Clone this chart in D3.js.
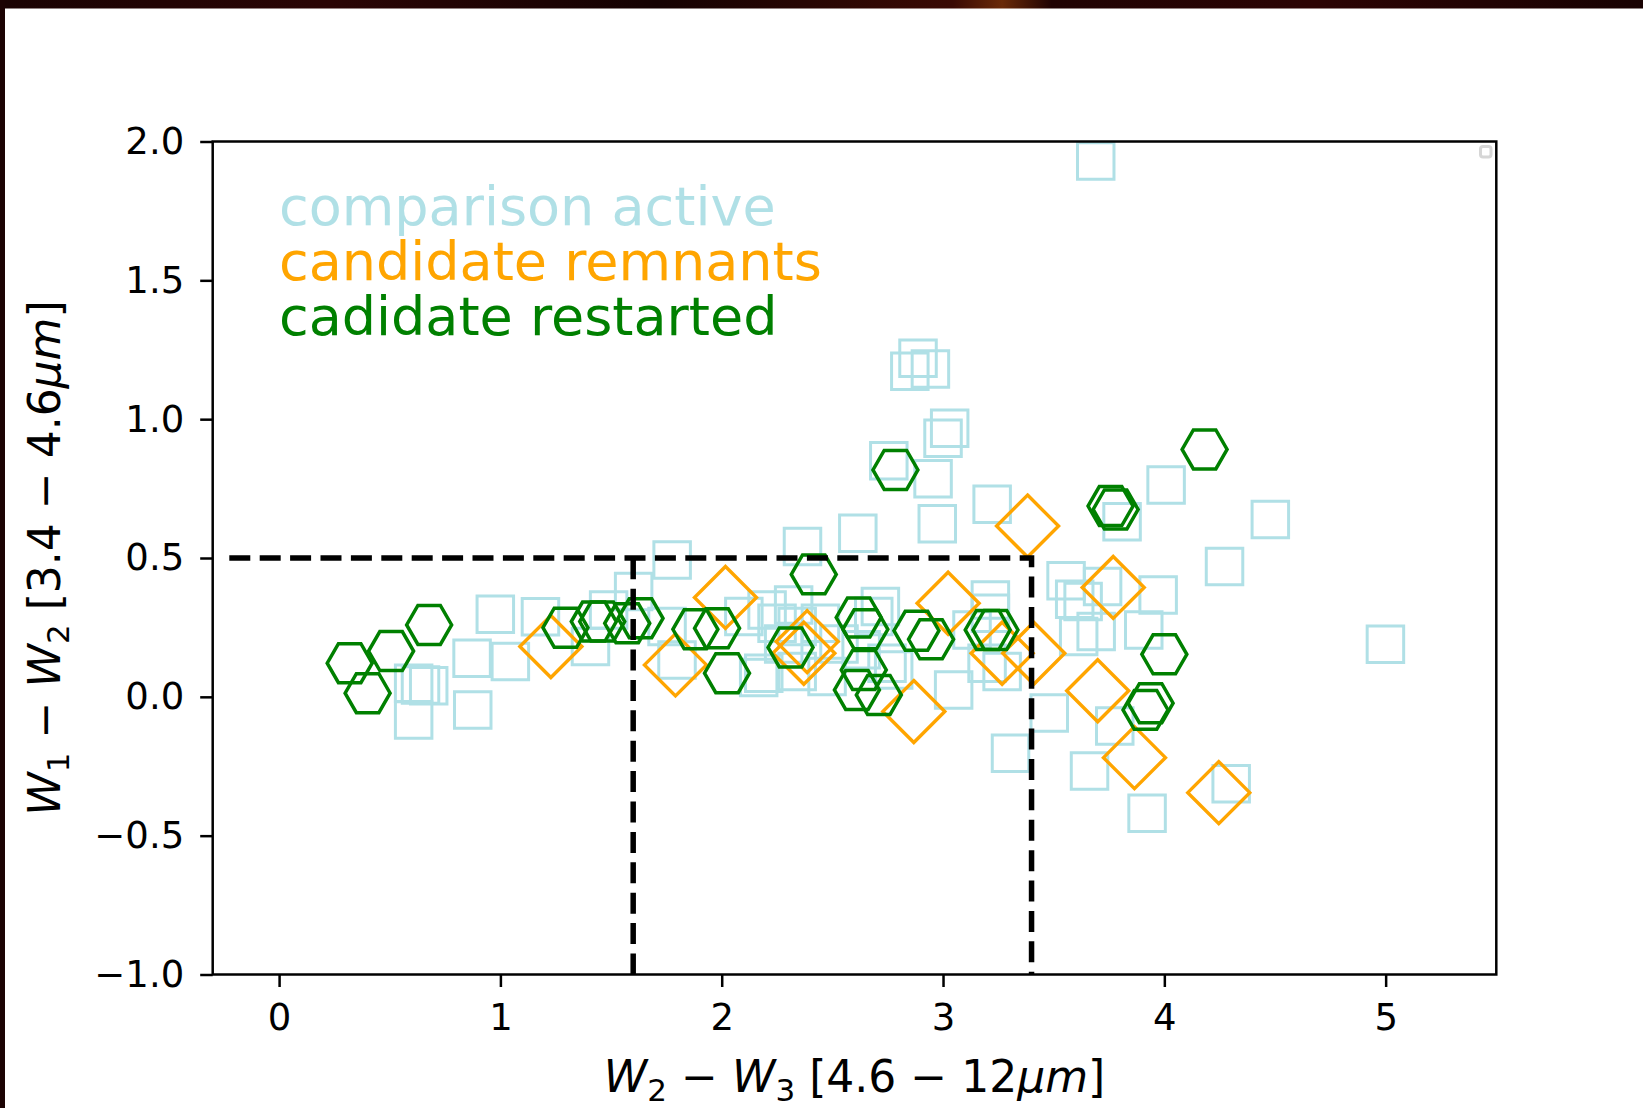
<!DOCTYPE html>
<html>
<head>
<meta charset="utf-8">
<script src="https://cdn.jsdelivr.net/npm/d3@7"></script>
<style>
  html, body { margin: 0; padding: 0; background: #fff; }
  svg { display: block; }
  text { font-family: "DejaVu Sans", sans-serif; }
</style>
</head>
<body>
<svg id="chart" width="1643" height="1108"></svg>
<script>
// WISE colour–colour diagram: W1−W2 versus W2−W3

// comparison sample of active sources (squares)
const activeX = [0.608, 0.639, 0.676, 0.608, 0.872, 0.977, 1.045, 1.181, 0.875, 1.407,
  1.489, 1.602, 1.776, 1.753, 1.798, 2.100, 2.205, 2.250, 2.325, 2.341,
  2.446, 2.167, 2.190, 2.341, 2.476, 2.687, 2.717, 2.747, 2.777, 3.048,
  3.131, 3.214, 3.214, 3.199, 3.267, 3.480, 3.305, 3.556, 3.595, 3.633,
  3.692, 3.613, 3.721, 3.972, 3.907, 3.776, 3.662, 3.922, 4.302, 4.999,
  4.008, 4.479, 3.809, 4.272, 3.222, 2.365, 2.615, 2.974, 2.887, 2.850,
  2.943, 3.030, 3.000, 2.755, 2.955, 3.690, 2.280, 2.530, 2.630];
const activeY = [0.049, 0.043, 0.040, -0.083, 0.139, 0.297, 0.127, 0.288, -0.047, 0.181,
  0.313, 0.379, 0.493, 0.253, 0.133, 0.289, 0.313, 0.265, 0.331, 0.253,
  0.265, 0.070, 0.085, 0.091, 0.073, 0.289, 0.325, 0.121, 0.097, 0.025,
  0.241, 0.349, 0.301, 0.121, 0.091, -0.058, -0.203, 0.418, 0.351, 0.343,
  0.235, 0.217, 0.397, 0.367, 0.241, -0.105, -0.267, -0.419, -0.313, 0.189,
  0.763, 0.639, 0.631, 0.469, 0.694, 0.541, 0.589, 0.623, 1.219, 1.173,
  1.181, 0.967, 0.931, 0.850, 0.785, 1.930, 0.190, 0.190, 0.170];

// candidate remnants (diamonds)
const remnantX = [1.228, 1.791, 2.017, 2.386, 2.371, 3.023, 3.267, 3.410, 2.868, 3.382,
  3.769, 3.699, 3.865, 4.246];
const remnantY = [0.181, 0.115, 0.358, 0.199, 0.157, 0.337, 0.157, 0.157, -0.053, 0.615,
  0.394, 0.022, -0.219, -0.345];

// candidate restarted sources (hexagons)
const restartX = [0.319, 0.506, 0.678, 0.400, 1.294, 1.422, 1.460, 1.573, 1.633, 1.881,
  1.979, 2.024, 2.416, 2.311, 2.619, 2.649, 2.642, 2.611, 2.710, 2.880,
  2.946, 3.202, 3.237, 2.785, 3.757, 3.780, 4.182, 4.000, 3.938, 3.915];
const restartY = [0.121, 0.165, 0.259, 0.013, 0.249, 0.271, 0.271, 0.265, 0.283, 0.243,
  0.247, 0.085, 0.441, 0.178, 0.286, 0.243, 0.097, 0.025, 0.007, 0.238,
  0.207, 0.241, 0.241, 0.817, 0.687, 0.675, 0.891, 0.153, -0.023, -0.047];

const xTicks = [0, 1, 2, 3, 4, 5];
const yTicks = [-1.0, -0.5, 0.0, 0.5, 1.0, 1.5, 2.0];
const legendLabels = ["comparison active", "candidate remnants", "cadidate restarted"];

// selection box: W1−W2 < 0.5 and 1.6 < W2−W3 < 3.4
const boxX = [1.6, 3.4];
const boxY = 0.5;
const boxStart = -0.225;

const colors = { active: "#b0e0e6", remnant: "#ffa500", restart: "#008000" };

const svg = d3.select("#chart");
const W = 1643, H = 1108;
const plot = { left: 212.7, right: 1496.3, top: 141.5, bottom: 974.5 };

// dark strip along the top and left edges
const defs = svg.append("defs");
const grad = defs.append("linearGradient").attr("id", "edge");
[["0%", "#1a0303"], ["20%", "#2a0505"], ["40%", "#150202"], ["58%", "#3a0a04"],
 ["61%", "#6a2a08"], ["64%", "#200303"], ["80%", "#2c0404"], ["100%", "#180202"]]
  .forEach(([o, c]) => grad.append("stop").attr("offset", o).attr("stop-color", c));
svg.append("rect").attr("x", 0).attr("y", 0).attr("width", W).attr("height", H).attr("fill", "#fff");
svg.append("rect").attr("x", 0).attr("y", 0).attr("width", W).attr("height", 8.5).attr("fill", "url(#edge)");
svg.append("rect").attr("x", 0).attr("y", 0).attr("width", 5).attr("height", H).attr("fill", "#1c0303");

const x = d3.scaleLinear().domain([-0.3, 5.5]).range([plot.left, plot.right]);
const y = d3.scaleLinear().domain([-1, 2]).range([plot.bottom, plot.top]);

defs.append("clipPath").attr("id", "plotClip")
  .append("rect")
  .attr("x", plot.left).attr("y", plot.top)
  .attr("width", plot.right - plot.left).attr("height", plot.bottom - plot.top);

// marker shapes
const hexagon = {
  draw(ctx, size) {
    const r = Math.sqrt(size) / 2;
    for (let i = 0; i < 6; i++) {
      const a = i * Math.PI / 3;
      const px = r * Math.cos(a), py = r * Math.sin(a);
      if (i === 0) ctx.moveTo(px, py); else ctx.lineTo(px, py);
    }
    ctx.closePath();
  }
};
const rhombus = {
  draw(ctx, size) {
    const r = Math.sqrt(size) / 2;
    ctx.moveTo(0, -r); ctx.lineTo(r, 0); ctx.lineTo(0, r); ctx.lineTo(-r, 0);
    ctx.closePath();
  }
};

const markers = svg.append("g").attr("clip-path", "url(#plotClip)");

function drawSeries(xs, ys, type, size, color, sw) {
  const pts = xs.map((v, i) => ({ x: v, y: ys[i] }));
  markers.append("g").selectAll("path").data(pts).join("path")
    .attr("transform", d => `translate(${x(d.x)},${y(d.y)})`)
    .attr("d", d3.symbol().type(type).size(size))
    .attr("fill", "none")
    .attr("stroke", color)
    .attr("stroke-width", sw);
}
drawSeries(activeX, activeY, d3.symbolSquare, 36.5 * 36.5, colors.active, 3);
drawSeries(remnantX, remnantY, rhombus, 62 * 62, colors.remnant, 3.4);
drawSeries(restartX, restartY, hexagon, 45 * 45, colors.restart, 3.5);

// dashed selection lines
const line = d3.line().x(d => x(d[0])).y(d => y(d[1]));
const dashes = svg.append("g").attr("clip-path", "url(#plotClip)")
  .attr("fill", "none").attr("stroke", "#000").attr("stroke-width", 5.5)
  .attr("stroke-dasharray", "21,9.4");
dashes.append("path")
  .attr("d", line([[boxStart, boxY], [boxX[1], boxY], [boxX[1], -1]]));
dashes.append("path")
  .attr("d", line([[boxX[0], -1], [boxX[0], boxY]]));

// axes
const xAxis = svg.append("g").attr("transform", `translate(0,${plot.bottom})`)
  .call(d3.axisBottom(x).tickValues(xTicks).tickFormat(d3.format("d"))
    .tickSize(12.5).tickPadding(16.5));
const yAxis = svg.append("g").attr("transform", `translate(${plot.left},0)`)
  .call(d3.axisLeft(y).tickValues(yTicks)
    .tickFormat(d => d3.format(".1f")(d).replace("-", "\u2212"))
    .tickSize(12.5).tickPadding(16));
[xAxis, yAxis].forEach(g => {
  g.select(".domain").remove();
  g.selectAll(".tick line").attr("stroke", "#000").attr("stroke-width", 2.5);
  g.selectAll(".tick text").attr("fill", "#000")
    .style("font-family", "'DejaVu Sans', sans-serif").style("font-size", "37px");
});

// frame
svg.append("rect")
  .attr("x", plot.left).attr("y", plot.top)
  .attr("width", plot.right - plot.left).attr("height", plot.bottom - plot.top)
  .attr("fill", "none").attr("stroke", "#000").attr("stroke-width", 2.5);

// small grey mark in the upper-right corner of the frame
svg.append("rect").attr("x", 1480.5).attr("y", 146.5).attr("width", 10.5).attr("height", 10.5)
  .attr("rx", 2.5).attr("fill", "none").attr("stroke", "#d6d6d6").attr("stroke-width", 3);

// legend text
const legendColors = [colors.active, colors.remnant, colors.restart];
svg.append("g").selectAll("text").data(legendLabels).join("text")
  .attr("x", 279).attr("y", (d, i) => 225 + i * 55)
  .attr("fill", (d, i) => legendColors[i])
  .style("font-size", "54px")
  .text(d => d);

// axis labels in math style
function mathLabel(sel, parts) {
  parts.forEach(p => {
    const t = sel.append("tspan").text(p.t);
    if (p.it) t.attr("font-style", "italic");
    if (p.sub) t.attr("font-size", "31px").attr("dy", 9);
    if (p.back) t.attr("dy", -9);
  });
}
const fs = 44;
const xl = svg.append("text")
  .attr("x", (plot.left + plot.right) / 2).attr("y", 1092)
  .attr("text-anchor", "middle").style("font-size", fs + "px").attr("fill", "#000");
mathLabel(xl, [
  { t: "W", it: true }, { t: "2", sub: true }, { t: " \u2212 ", back: true },
  { t: "W", it: true }, { t: "3", sub: true }, { t: " [4.6 \u2212 12", back: true },
  { t: "\u03bcm", it: true }, { t: "]" }
]);
const yl = svg.append("text")
  .attr("transform", `translate(60,${(plot.top + plot.bottom) / 2}) rotate(-90)`)
  .attr("text-anchor", "middle").style("font-size", fs + "px").attr("fill", "#000");
mathLabel(yl, [
  { t: "W", it: true }, { t: "1", sub: true }, { t: " \u2212 ", back: true },
  { t: "W", it: true }, { t: "2", sub: true }, { t: " [3.4 \u2212 4.6", back: true },
  { t: "\u03bcm", it: true }, { t: "]" }
]);
</script>
</body>
</html>
